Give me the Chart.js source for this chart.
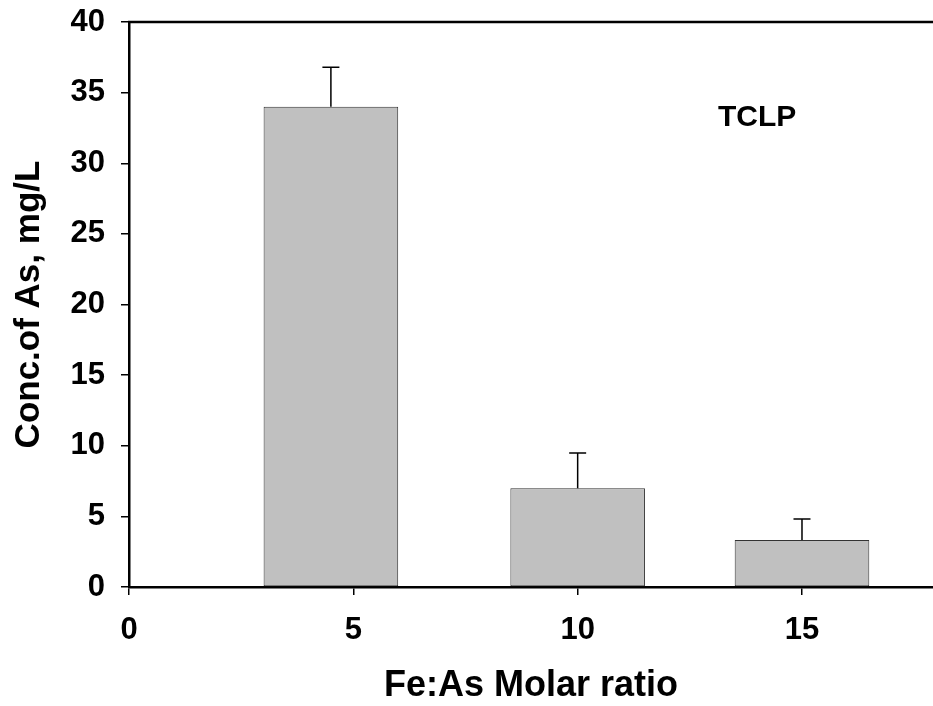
<!DOCTYPE html>
<html>
<head>
<meta charset="utf-8">
<script src="https://cdn.jsdelivr.net/npm/chart.js@4/dist/chart.umd.min.js"></script>
<style>
  html, body { margin: 0; padding: 0; background: #fff; overflow: hidden; }
  #wrap { width: 933px; height: 706px; position: relative; }
</style>
</head>
<body>
<div id="wrap"><canvas id="bar-chart"></canvas></div>
<script>
// data
var ratios = [4.5, 10, 15];          // Fe:As molar ratio (bar centres)
var concAs = [34.0, 7.0, 3.33];      // Conc. of As, mg/L
var errAs = [2.8, 2.48, 1.48];       // upper error
var xTicks = [0, 5, 10, 15];
var yTicks = [0, 5, 10, 15, 20, 25, 30, 35, 40];
var noteText = 'TCLP';
var notePos = { x: 14.0, y: 33.2 };

var FONT = '"Liberation Sans", Arial, Helvetica, sans-serif';

// upper error bars + top frame line + note text
var extras = {
  id: 'extras',
  afterDatasetsDraw: function(chart) {
    var ctx = chart.ctx;
    var xs = chart.scales.x, ys = chart.scales.y;
    var area = chart.chartArea;
    ctx.save();
    ctx.strokeStyle = '#000';
    ctx.lineWidth = 1.5;
    for (var i = 0; i < ratios.length; i++) {
      var px = xs.getPixelForValue(ratios[i]);
      var y0 = ys.getPixelForValue(concAs[i]);
      var y1 = ys.getPixelForValue(concAs[i] + errAs[i]);
      ctx.beginPath();
      ctx.moveTo(px, y0);
      ctx.lineTo(px, y1);
      ctx.moveTo(px - 8.5, y1);
      ctx.lineTo(px + 8.5, y1);
      ctx.stroke();
    }
    // top frame
    ctx.lineWidth = 2.5;
    ctx.beginPath();
    ctx.moveTo(area.left - 1, area.top);
    ctx.lineTo(area.right, area.top);
    ctx.stroke();
    // note
    ctx.fillStyle = '#000';
    ctx.font = 'bold 30px ' + FONT;
    ctx.textAlign = 'center';
    ctx.textBaseline = 'middle';
    ctx.fillText(noteText, xs.getPixelForValue(notePos.x), ys.getPixelForValue(notePos.y));
    ctx.restore();
  }
};

new Chart(document.getElementById('bar-chart'), {
  type: 'bar',
  data: {
    datasets: [{
      data: ratios.map(function(r, i) { return { x: r, y: concAs[i] }; }),
      backgroundColor: '#c0c0c0',
      borderColor: '#333333',
      borderWidth: 1,
      borderSkipped: false,
      categoryPercentage: 1,
      barPercentage: 0.6
    }]
  },
  options: {
    responsive: true,
    maintainAspectRatio: false,
    animation: false,
    layout: { padding: { top: 22, right: 0, left: 0, bottom: 0 } },
    plugins: {
      legend: { display: false },
      tooltip: { enabled: false }
    },
    scales: {
      x: {
        type: 'linear',
        min: 0,
        max: 17.92,
        offset: false,
        afterBuildTicks: function(scale) {
          scale.ticks = xTicks.map(function(v) { return { value: v }; });
        },
        afterFit: function(scale) {
          scale.height = 119;
          scale.paddingLeft = 0;
          scale.paddingRight = 0;
        },
        grid: { display: true, offset: false, drawOnChartArea: false, drawTicks: true, tickLength: 8, color: '#000', lineWidth: 1.5 },
        border: { display: true, color: '#000', width: 2.5 },
        ticks: {
          color: '#000',
          padding: 17,
          maxRotation: 0,
          font: { family: FONT, size: 31, weight: 'bold' }
        },
        title: {
          display: true,
          text: 'Fe:As Molar ratio',
          color: '#000',
          padding: { top: 0, bottom: 0 },
          font: { family: FONT, size: 36, weight: 'bold', lineHeight: 1.1 }
        }
      },
      y: {
        min: 0,
        max: 40,
        afterBuildTicks: function(scale) {
          scale.ticks = yTicks.map(function(v) { return { value: v }; });
        },
        afterFit: function(scale) {
          scale.width = 129;
          scale.paddingTop = 0;
          scale.paddingBottom = 0;
        },
        grid: { display: true, drawOnChartArea: false, drawTicks: true, tickLength: 8, color: '#000', lineWidth: 1.5 },
        border: { display: true, color: '#000', width: 2.5 },
        ticks: {
          color: '#000',
          padding: 16,
          font: { family: FONT, size: 31, weight: 'bold' }
        },
        title: {
          display: true,
          text: 'Conc.of As, mg/L',
          color: '#000',
          padding: { top: 8, bottom: 0 },
          font: { family: FONT, size: 35, weight: 'bold', lineHeight: 1.2 }
        }
      }
    }
  },
  plugins: [extras]
});
</script>
</body>
</html>
